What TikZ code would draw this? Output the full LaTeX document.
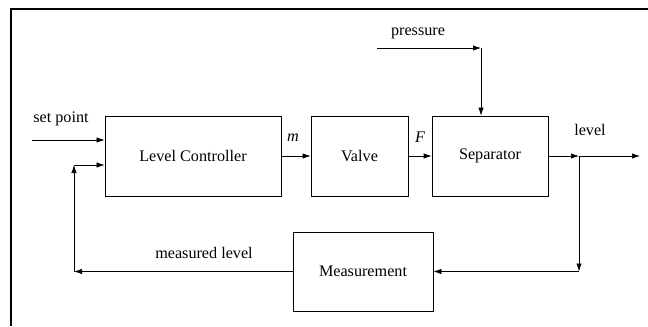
\documentclass[tikz,border=0pt]{standalone}
\usepackage{fontspec}
\setmainfont{Liberation Serif}
\usepackage{tikz}
\usetikzlibrary{positioning,arrows.meta}

\begin{document}
\begin{tikzpicture}[
x=0.03cm, y=-0.03cm,
box/.style={draw, line width=0.6pt, minimum height=2.4cm, align=center, font=\fontsize{13.8}{16}\selectfont},
lbl/.style={font=\fontsize{13.8}{16}\selectfont, inner sep=0pt},
>={Latex[length=2.4mm,width=1.6mm]}
]
\useasboundingbox (0,0) rectangle (648,326);

% frame
\draw[line width=1.6pt] (648,9) -- (11,9) -- (11,326);

\node[box, minimum width=5.28cm] (lc) at (193,156) {Level Controller};
\node[box, minimum width=2.91cm] (valve) at (359.5,156) {Valve};
\node[box, minimum width=3.48cm] (sep) at (490,156) {Separator};
\node[box, minimum width=4.2cm, minimum height=2.37cm] (meas) at (363,271.5) {Measurement};

\coordinate (sp) at (32,140);
\coordinate (fbtop) at (74,165);
\coordinate (br) at (579,156);
\coordinate (out) at (640,156);
\coordinate (pin) at (377,48);
\coordinate (pc) at (481,48);

\node[lbl] (splbl) at (61,119) {set point};
\node[lbl] (mlbl) at (293,138) {\textit{m}};
\node[lbl] (flbl) at (420,137) {\textit{F}};
\node[lbl] (lvllbl) at (590,130) {level};
\node[lbl] (plbl) at (418,33) {pressure};
\node[lbl] (mllbl) at (204,253) {measured level};

\draw[->, line width=0.6pt] (sp) -- (sp -| lc.west);
\draw[->, line width=0.6pt] (lc) -- (valve);
\draw[->, line width=0.6pt] (valve) -- (sep);
\draw[->, line width=0.6pt] (sep.east) -- (br);
\draw[->, line width=0.6pt] (br) -- (out);
\draw[->, line width=0.6pt] (pin) -- (pc);
\draw[->, line width=0.6pt] (pc) -- (pc |- sep.north);
\draw[->, line width=0.6pt] (br) -- (br |- meas.east);
\draw[->, line width=0.6pt] (br |- meas.east) -- (meas.east);
\draw[->, line width=0.6pt] (meas.west) -- (meas.west -| fbtop);
\draw[->, line width=0.6pt] (meas.west -| fbtop) -- (fbtop);
\draw[->, line width=0.6pt] (fbtop) -- (fbtop -| lc.west);

\end{tikzpicture}
\end{document}
